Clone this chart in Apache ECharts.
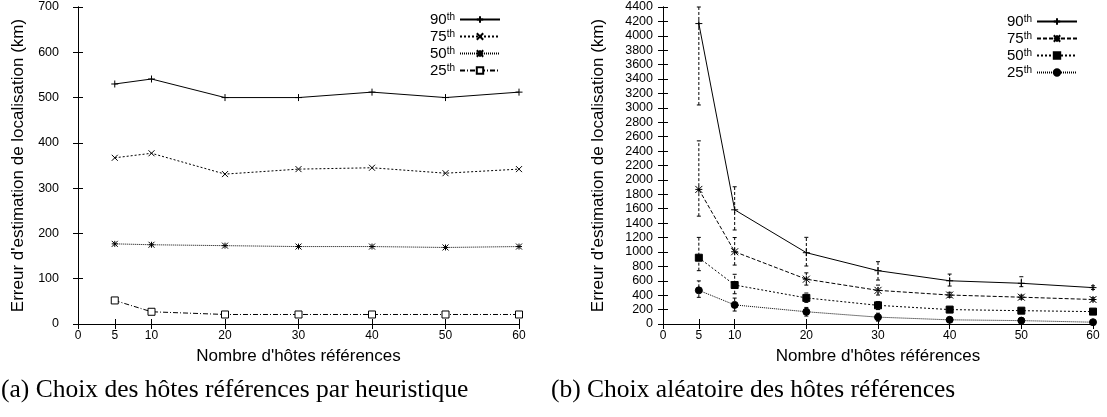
<!DOCTYPE html>
<html>
<head>
<meta charset="utf-8">
<script src="https://cdn.jsdelivr.net/npm/echarts@6/dist/echarts.min.js"></script>
<style>
  html, body { margin: 0; padding: 0; background: #fff; }
  #chart { width: 1107px; height: 417px; }
</style>
</head>
<body>
<div id="chart"></div>
<script>
// nombre d'hôtes références
const hosts = [5, 10, 20, 30, 40, 50, 60];
const xTicks = [0, 5, 10, 20, 30, 40, 50, 60];

// (a) heuristique
const heurP90 = [530, 541, 500, 500, 512, 500, 512];
const heurP75 = [367, 377, 331, 342, 345, 333, 342];
const heurP50 = [177, 175, 173, 171, 171, 169, 171];
const heurP25 = [52, 27, 21, 21, 21, 21, 21];

// (b) aléatoire, avec intervalles
const randP90 = [4170, 1585, 990, 740, 600, 565, 505];
const randP90Low = [3040, 1305, 805, 610, 527, 518, 480];
const randP90High = [4400, 1905, 1203, 865, 693, 656, 530];
const randP75 = [1868, 1003, 622, 467, 402, 372, 340];
const randP75Low = [1497, 818, 540, 402, 370, 345, 320];
const randP75High = [2542, 1200, 710, 540, 440, 400, 365];
const randP50 = [920, 541, 362, 259, 200, 185, 172];
const randP50Low = [740, 420, 300, 200, 170, 160, 150];
const randP50High = [1202, 690, 430, 310, 230, 210, 190];
const randP25 = [467, 265, 170, 95, 58, 47, 25];
const randP25Low = [370, 180, 110, 40, 30, 25, 10];
const randP25High = [598, 360, 230, 150, 90, 75, 45];

const FONT = "'Liberation Sans', Arial, sans-serif";
const SERIF = "'Liberation Serif', 'DejaVu Serif', serif";

const PLUS = 'path://M0,5L10,5M5,0L5,10';
const CROSS = 'path://M0,0L10,10M10,0L0,10';
const STAR = 'path://M0,0L10,10M10,0L0,10M5,0L5,10M0,5L10,5';

const pairs = (ys) => hosts.map((x, i) => [x, ys[i]]);
const bars = (lo, hi) => hosts.map((x, i) => [x, lo[i], hi[i]]);

function lineSeries(name, ys, gi, symbol, size, dash, fill, width) {
  return {
    name, type: 'line', data: pairs(ys),
    xAxisIndex: gi * 2, yAxisIndex: gi * 2,
    symbol, symbolSize: size,
    itemStyle: { color: fill, borderColor: '#000', borderWidth: 1 },
    lineStyle: { color: '#000', width: width || 1, type: dash },
    emphasis: { disabled: true },
    z: 3
  };
}

function errorSeries(lo, hi) {
  return {
    type: 'custom', data: bars(lo, hi),
    xAxisIndex: 2, yAxisIndex: 2,
    encode: { x: 0, y: [1, 2] },
    silent: true, z: 2,
    renderItem: function (params, api) {
      const x = api.value(0);
      const a = api.coord([x, api.value(1)]);
      const b = api.coord([x, api.value(2)]);
      const st = { stroke: '#000', lineWidth: 1, lineDash: [3, 2] };
      const cap = { stroke: '#000', lineWidth: 1 };
      return {
        type: 'group',
        children: [
          { type: 'line', shape: { x1: a[0], y1: a[1], x2: b[0], y2: b[1] }, style: st },
          { type: 'line', shape: { x1: a[0] - 2, y1: a[1], x2: a[0] + 2, y2: a[1] }, style: cap },
          { type: 'line', shape: { x1: b[0] - 2, y1: b[1], x2: b[0] + 2, y2: b[1] }, style: cap }
        ]
      };
    }
  };
}

function xAxes(gi) {
  const base = {
    type: 'value', gridIndex: gi, min: 0, max: 60,
    axisLine: { show: true, lineStyle: { color: '#000', width: 1 } },
    splitLine: { show: false },
    axisTick: { inside: true, length: 5, lineStyle: { color: '#000' }, customValues: xTicks }
  };
  return [
    Object.assign({}, base, {
      position: 'bottom',
      name: "Nombre d'hôtes références", nameLocation: 'middle', nameGap: 24,
      nameTextStyle: { fontFamily: FONT, fontSize: 17, color: '#000' },
      axisLabel: { customValues: xTicks, fontFamily: FONT, fontSize: 12, color: '#000', margin: 6 }
    }),
    Object.assign({}, base, { position: 'top', axisLabel: { show: false } })
  ];
}

function yAxes(gi, max, step, margin, gap) {
  const base = {
    type: 'value', gridIndex: gi, min: 0, max: max, interval: step,
    axisLine: { show: true, lineStyle: { color: '#000', width: 1 } },
    splitLine: { show: false },
    axisTick: { inside: true, length: 5, lineStyle: { color: '#000' } }
  };
  return [
    Object.assign({}, base, {
      position: 'left',
      name: "Erreur d'estimation de localisation (km)", nameLocation: 'middle', nameGap: gap,
      nameTextStyle: { fontFamily: FONT, fontSize: 17, color: '#000' },
      axisLabel: { fontFamily: FONT, fontSize: 12.5, color: '#000', margin: margin,
        formatter: v => String(v) }
    }),
    Object.assign({}, base, { position: 'right', axisLabel: { show: false } })
  ];
}

function legend(prefix, right, top) {
  return {
    orient: 'vertical', align: 'right', right: right, top: top, padding: 0,
    itemWidth: 40, itemHeight: 8, itemGap: 0,
    selectedMode: false,
    data: ['90', '75', '50', '25'].map(p => prefix + p),
    formatter: name => '{n|' + name.slice(1) + '}{s|th}',
    textStyle: {
      color: '#000', fontFamily: FONT,
      rich: {
        n: { fontSize: 15, lineHeight: 15, verticalAlign: 'bottom', fontFamily: FONT },
        s: { fontSize: 10, lineHeight: 15, verticalAlign: 'top', padding: [0, 0, 7, 0], fontFamily: FONT }
      }
    }
  };
}

const chart = echarts.init(document.getElementById('chart'));
chart.setOption({
  animation: false,
  backgroundColor: '#fff',
  grid: [
    { left: 78, top: 7, width: 441, height: 317 },
    { left: 663, top: 7, width: 430, height: 317 }
  ],
  xAxis: xAxes(0).concat(xAxes(1)),
  yAxis: yAxes(0, 700, 100, 19, 51).concat(yAxes(1, 4400, 200, 10, 56)),
  legend: [legend('a', 606, 12), legend('b', 29, 14)],
  series: [
    lineSeries('a90', heurP90, 0, PLUS, 7, 'solid', '#000'),
    lineSeries('a75', heurP75, 0, CROSS, 6, [2, 2], '#000'),
    lineSeries('a50', heurP50, 0, STAR, 6, [1, 1], '#000'),
    lineSeries('a25', heurP25, 0, 'rect', 7, [5, 2, 1, 2], '#fff'),
    errorSeries(randP90Low, randP90High),
    errorSeries(randP75Low, randP75High),
    errorSeries(randP50Low, randP50High),
    errorSeries(randP25Low, randP25High),
    lineSeries('b90', randP90, 1, PLUS, 7, 'solid', '#000'),
    lineSeries('b75', randP75, 1, STAR, 7, [4, 2], '#000'),
    lineSeries('b50', randP50, 1, 'rect', 7, [2, 2], '#000'),
    lineSeries('b25', randP25, 1, 'circle', 7, [1, 1], '#000')
  ],
  graphic: [
    { type: 'text', left: 1, top: 377,
      style: { text: '(a) Choix des hôtes références par heuristique', font: '25.5px ' + SERIF, fill: '#000' } },
    { type: 'text', left: 551, top: 377,
      style: { text: '(b) Choix aléatoire des hôtes références', font: '25.5px ' + SERIF, fill: '#000' } }
  ]
});
</script>
</body>
</html>
